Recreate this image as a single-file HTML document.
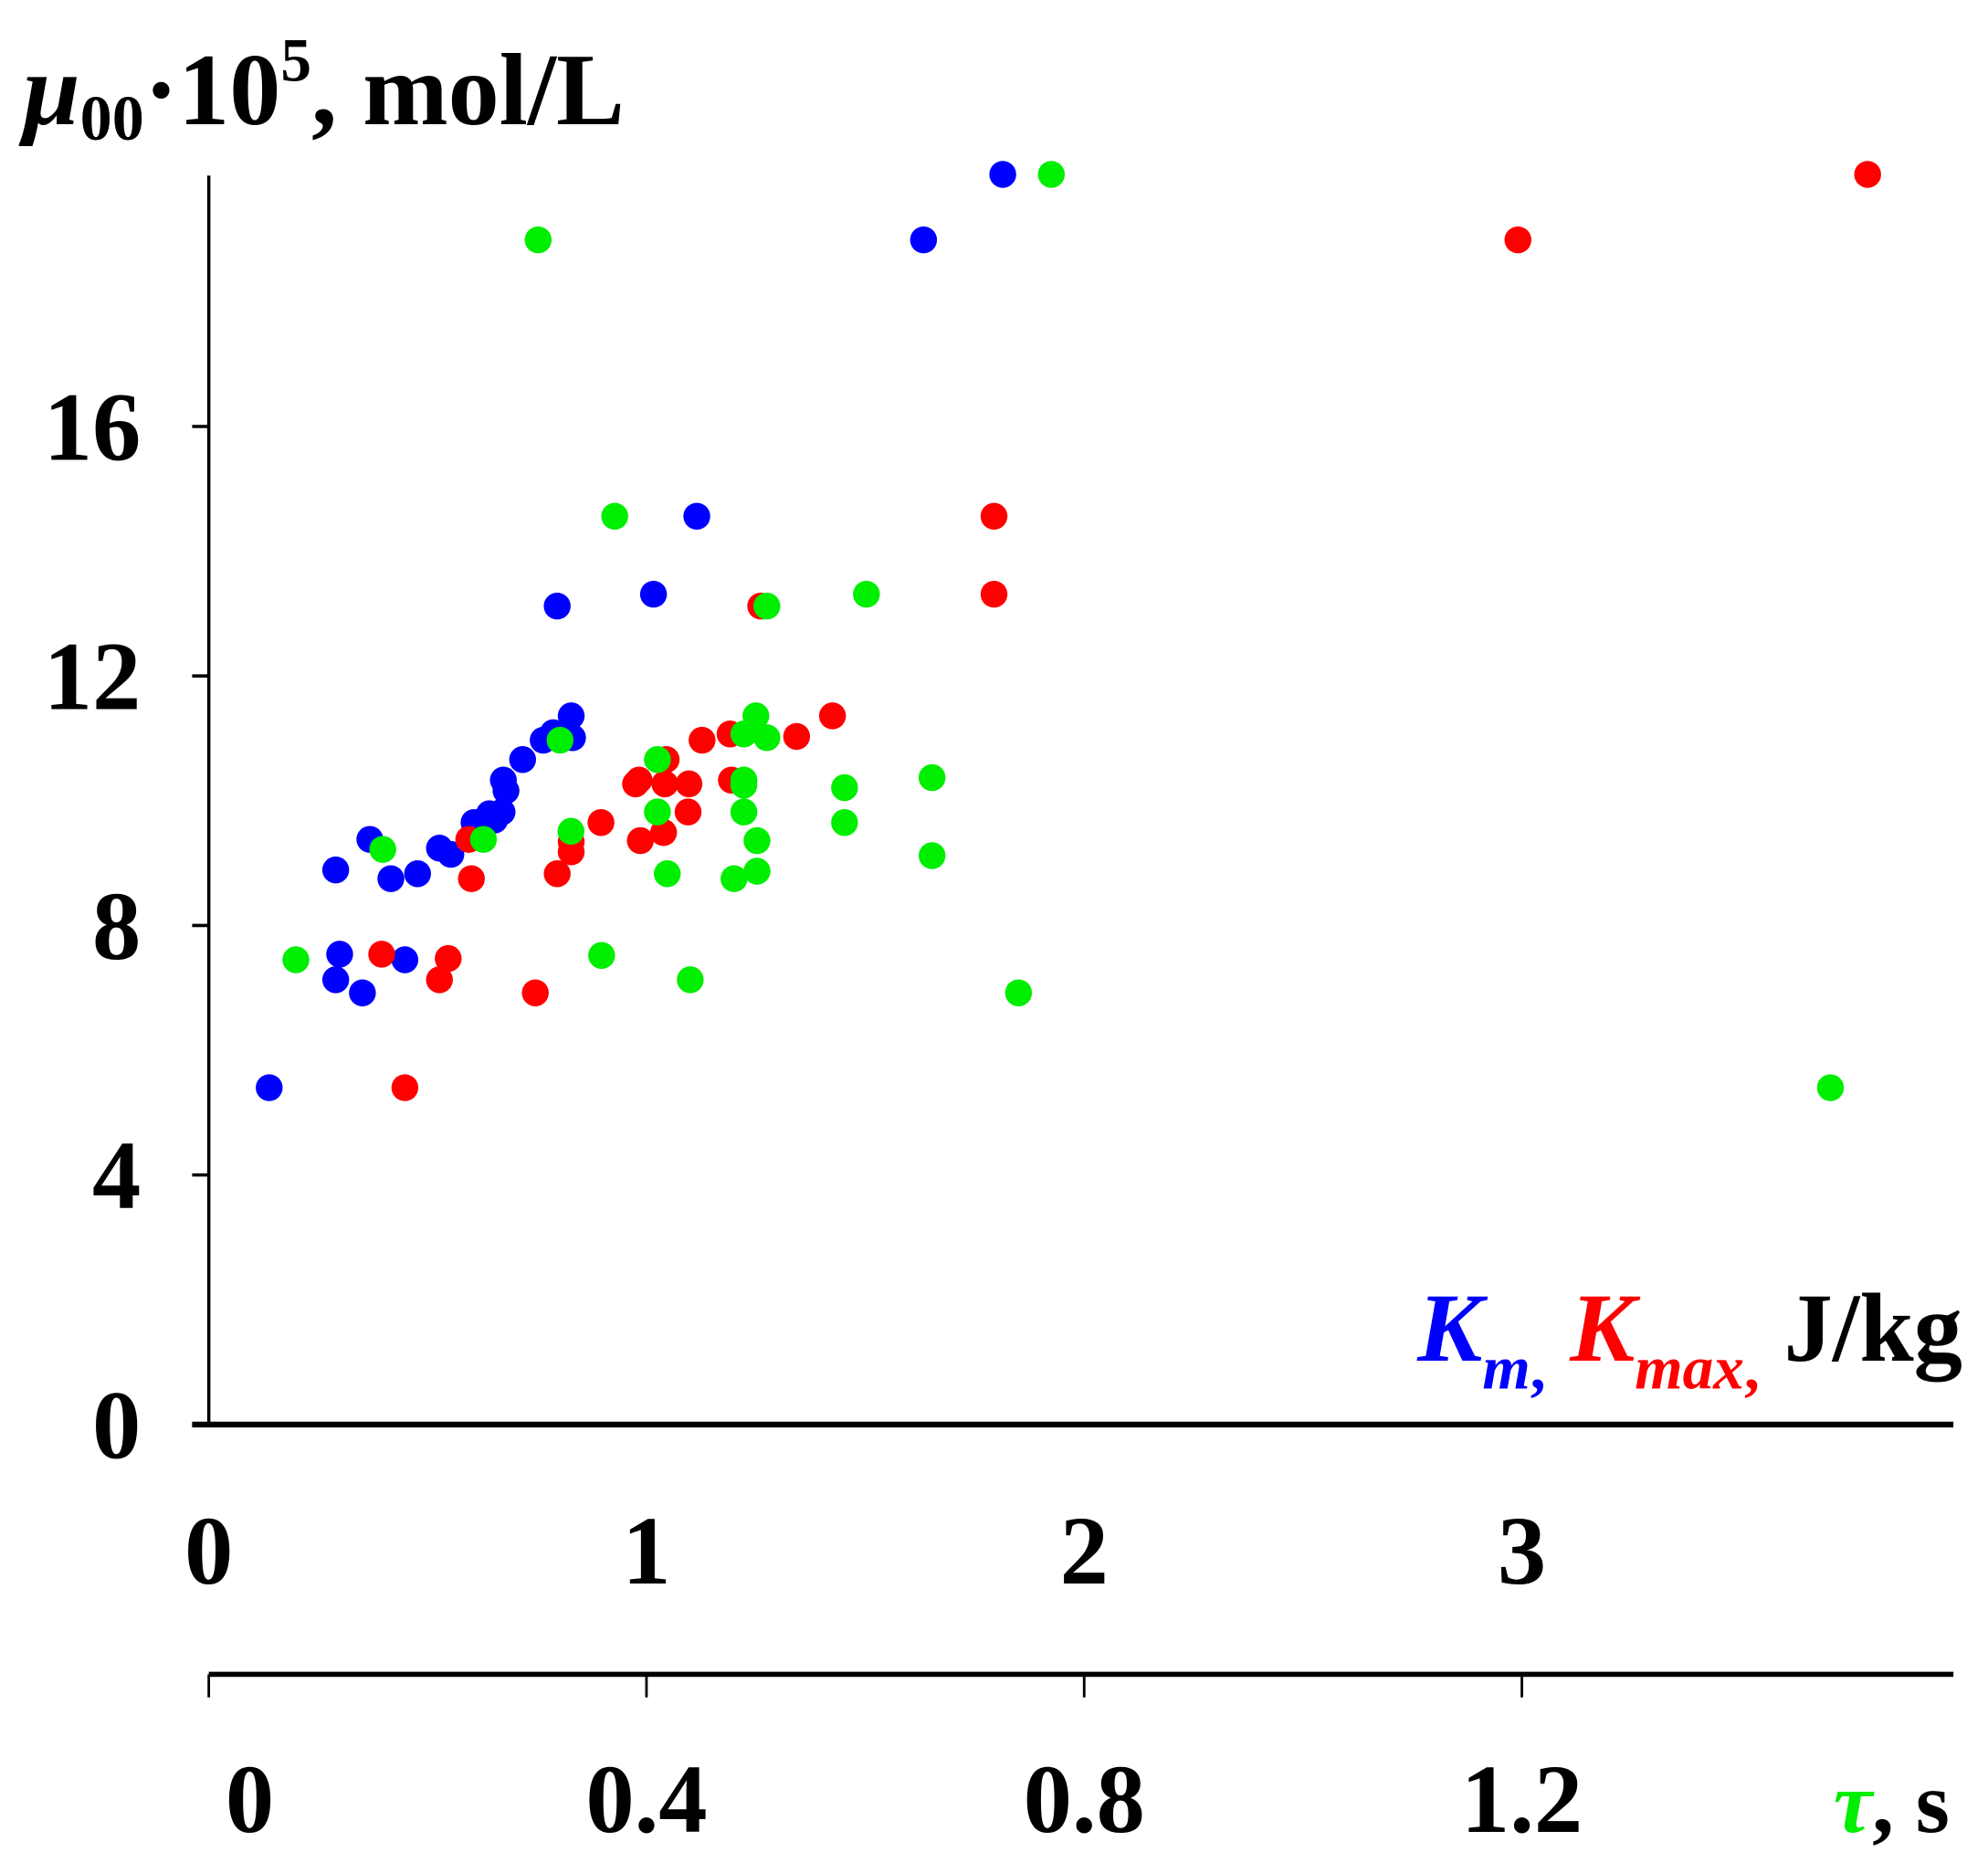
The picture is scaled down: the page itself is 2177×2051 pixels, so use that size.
<!DOCTYPE html>
<html><head><meta charset="utf-8"><style>
html,body{margin:0;padding:0;background:#fff}
svg{display:block}
text{font-family:"Liberation Serif",serif;font-weight:bold;fill:#000}
</style></head><body>
<svg id="chart" width="2177" height="2051" viewBox="0 0 1552 1462" xmlns="http://www.w3.org/2000/svg">
<g>
<line x1="163" y1="137" x2="163" y2="1112" stroke="#000" stroke-width="2.5"/>
</g>
<g id="yticks"></g>
<line x1="150" y1="1112" x2="1525" y2="1112" stroke="#000" stroke-width="4.5"/>
<line x1="163" y1="1307" x2="1525" y2="1307" stroke="#000" stroke-width="4"/>
<g id="kticks"></g>
<g id="tticks"></g>
<text x="18" y="97" font-size="80"><tspan font-style="italic">μ</tspan><tspan font-size="50" dy="12">00</tspan><tspan dy="-12">·10</tspan><tspan font-size="48" dy="-34">5</tspan><tspan dy="34">, mol/L</tspan></text>
<text x="1532" y="1062" font-size="76" text-anchor="end"><tspan fill="#0000ff" font-style="italic">K</tspan><tspan fill="#0000ff" font-style="italic" font-size="48" dy="22">m</tspan><tspan fill="#0000ff" font-size="48">,</tspan><tspan dy="-22"> </tspan><tspan fill="#ff0000" font-style="italic">K</tspan><tspan fill="#ff0000" font-style="italic" font-size="48" dy="22">max</tspan><tspan fill="#ff0000" font-size="48">,</tspan><tspan dy="-22"> J/kg</tspan></text>
<text x="1522" y="1430" font-size="68" text-anchor="end"><tspan fill="#00ee00" font-style="italic">τ</tspan>, s</text>
<g id="points"></g>
</svg>
<script>
const yTicks = [0, 4, 8, 12, 16];
const kTicks = [0, 1, 2, 3];
const tauTicks = [0, 0.4, 0.8, 1.2];
const tauLabels = ["0", "0.4", "0.8", "1.2"];
const blueK = [0.138,0.290,0.299,0.290,0.351,0.368,0.416,0.448,0.477,0.527,0.553,0.606,0.623,0.641,0.653,0.670,0.673,0.679,0.717,0.764,0.787,0.831,0.828,0.796,1.016,1.115,1.633,1.814];
const blueMu = [5.40,8.89,7.54,7.13,6.92,9.38,8.75,7.45,8.83,9.24,9.14,9.65,9.53,9.79,9.69,9.82,10.33,10.16,10.66,10.97,11.09,11.01,11.36,13.12,13.31,14.56,18.99,20.04];
const redK = [0.395,0.448,0.527,0.547,0.594,0.600,0.746,0.796,0.828,0.828,0.896,0.975,0.983,0.986,1.039,1.045,1.042,1.095,1.097,1.127,1.191,1.194,1.261,1.343,1.425,1.794,1.794,2.991,3.790];
const redMu = [7.54,5.40,7.13,7.47,9.38,8.75,6.92,8.83,9.18,9.34,9.65,10.27,10.33,9.36,9.49,10.66,10.27,9.82,10.27,10.97,11.07,10.33,13.12,11.03,11.36,14.56,13.31,18.99,20.04];
const greenTau = [0.0796,0.159,0.251,0.301,0.321,0.331,0.359,0.371,0.410,0.410,0.419,0.440,0.480,0.489,0.489,0.489,0.489,0.500,0.501,0.501,0.510,0.510,0.581,0.581,0.601,0.661,0.661,0.740,0.770,1.482];
const greenMu = [7.45,9.22,9.38,18.99,10.97,9.51,7.52,14.56,10.66,9.82,8.83,7.13,8.75,11.07,10.33,10.25,9.82,11.36,9.36,8.87,13.12,11.01,10.21,9.65,13.31,10.37,9.12,6.92,20.04,5.40];

const NS = "http://www.w3.org/2000/svg";
const x0 = 163, pxPerK = 341.7;
const xK = k => x0 + k * pxPerK;
const xTau = t => x0 + t / 0.4 * pxPerK;
const yMu = v => 1112 - v * 48.7;

function mk(tag, attrs, parent) {
  const el = document.createElementNS(NS, tag);
  for (const a in attrs) el.setAttribute(a, attrs[a]);
  parent.appendChild(el);
  return el;
}
const yg = document.getElementById('yticks');
yTicks.forEach(v => {
  const l = mk('line', {x1: 150, x2: 163, y1: yMu(v), y2: yMu(v), stroke: '#000', 'stroke-width': 2.5}, yg);
  
  
  const t = mk('text', {x: 110, y: yMu(v) + 26, 'font-size': 76, 'text-anchor': 'end'}, yg);
  t.textContent = v;
  
  
});
const kg = document.getElementById('kticks');
kTicks.forEach(v => {
  const t = mk('text', {x: xK(v), y: 1236, 'font-size': 76, 'text-anchor': 'middle'}, kg);
  t.textContent = v;
  
  
});
const tg = document.getElementById('tticks');
tauTicks.forEach((v, i) => {
  const l = mk('line', {x1: xTau(v), x2: xTau(v), y1: 1307, y2: 1325, stroke: '#000', 'stroke-width': 2}, tg);
  
  
  const t = mk('text', {x: i === 0 ? xTau(v) + 32 : xTau(v), y: 1430, 'font-size': 76, 'text-anchor': 'middle'}, tg);
  t.textContent = tauLabels[i];
  
  
});
const pg = document.getElementById('points');
blueK.forEach((k, i) => {
  const c = mk('circle', {cx: xK(k), cy: yMu(blueMu[i]), r: 10.5, fill: '#0000ff'}, pg);
  
  
});
redK.forEach((k, i) => {
  const c = mk('circle', {cx: xK(k), cy: yMu(redMu[i]), r: 10.5, fill: '#ff0000'}, pg);
  
  
});
greenTau.forEach((t, i) => {
  const c = mk('circle', {cx: xTau(t), cy: yMu(greenMu[i]), r: 10.5, fill: '#00ee00'}, pg);
  
  
});
</script>
</body></html>
